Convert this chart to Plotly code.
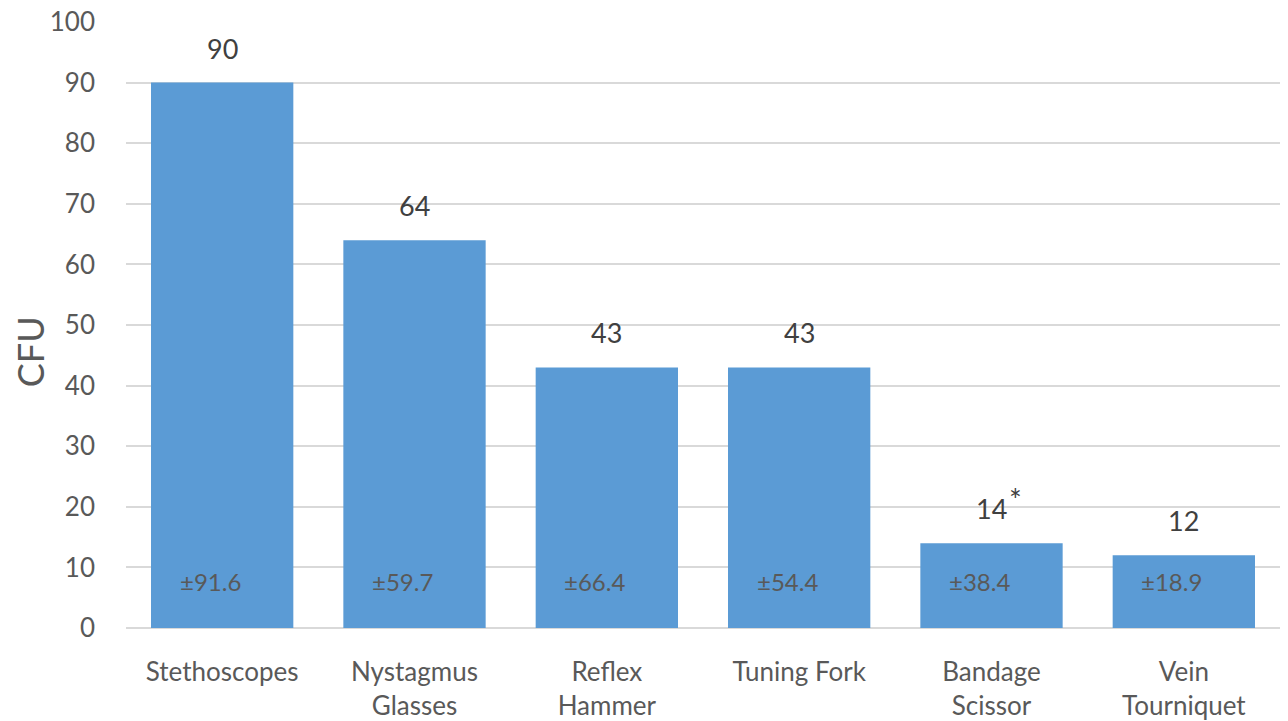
import plotly.graph_objects as go

categories = ["Stethoscopes", "Nystagmus<br>Glasses", "Reflex<br>Hammer", "Tuning Fork", "Bandage<br>Scissor", "Vein<br>Tourniquet"]
values = [90, 64, 43, 43, 14, 12]
value_labels = ["90", "64", "43", "43", "14", "12"]
marks = ["", "", "", "", "*", ""]
sd_labels = ["±91.6", "±59.7", "±66.4", "±54.4", "±38.4", "±18.9"]
y_ticks = [0, 10, 20, 30, 40, 50, 60, 70, 80, 90, 100]

FONT = "Lato"
fig = go.Figure()
fig.add_trace(go.Bar(x=categories, y=values, marker_color="#5b9bd5", marker_line_width=0, showlegend=False))

annotations = []
for c, v, lab, mk, sd in zip(categories, values, value_labels, marks, sd_labels):
    annotations.append(dict(x=c, y=v, text=lab, showarrow=False, yanchor="bottom", yshift=16,
                            font=dict(family=FONT, size=27, color="#404040")))
    if mk:
        annotations.append(dict(x=c, y=v, text=mk, showarrow=False, yanchor="bottom", yshift=24, xshift=24,
                                font=dict(family=FONT, size=30, color="#404040")))
    annotations.append(dict(x=c, y=7.6, text=sd, showarrow=False, yanchor="middle", xshift=-12,
                            font=dict(family=FONT, size=24, color="#595959")))
annotations.append(dict(xref="paper", yref="paper", x=0, y=0.455, xshift=-96, text="CFU",
                        textangle=-90, showarrow=False, xanchor="center", yanchor="middle",
                        font=dict(family=FONT, size=36, color="#595959")))

fig.update_layout(
    width=1288, height=721,
    margin=dict(l=126, r=8, t=22, b=93),
    paper_bgcolor="white", plot_bgcolor="white",
    bargap=0.26,
    annotations=annotations,
    xaxis=dict(tickfont=dict(family=FONT, size=26, color="#595959"), showline=False, showgrid=False,
               ticks="", ticklabelstandoff=26, automargin=False),
    yaxis=dict(range=[0, 100], tickvals=y_ticks, showgrid=True, gridcolor="#d9d9d9", gridwidth=1.5,
               zeroline=True, zerolinecolor="#d9d9d9", zerolinewidth=1.5, automargin=False,
               tickfont=dict(family=FONT, size=26, color="#595959"), ticks="", ticklabelstandoff=30),
)
fig.write_html("out.html")
